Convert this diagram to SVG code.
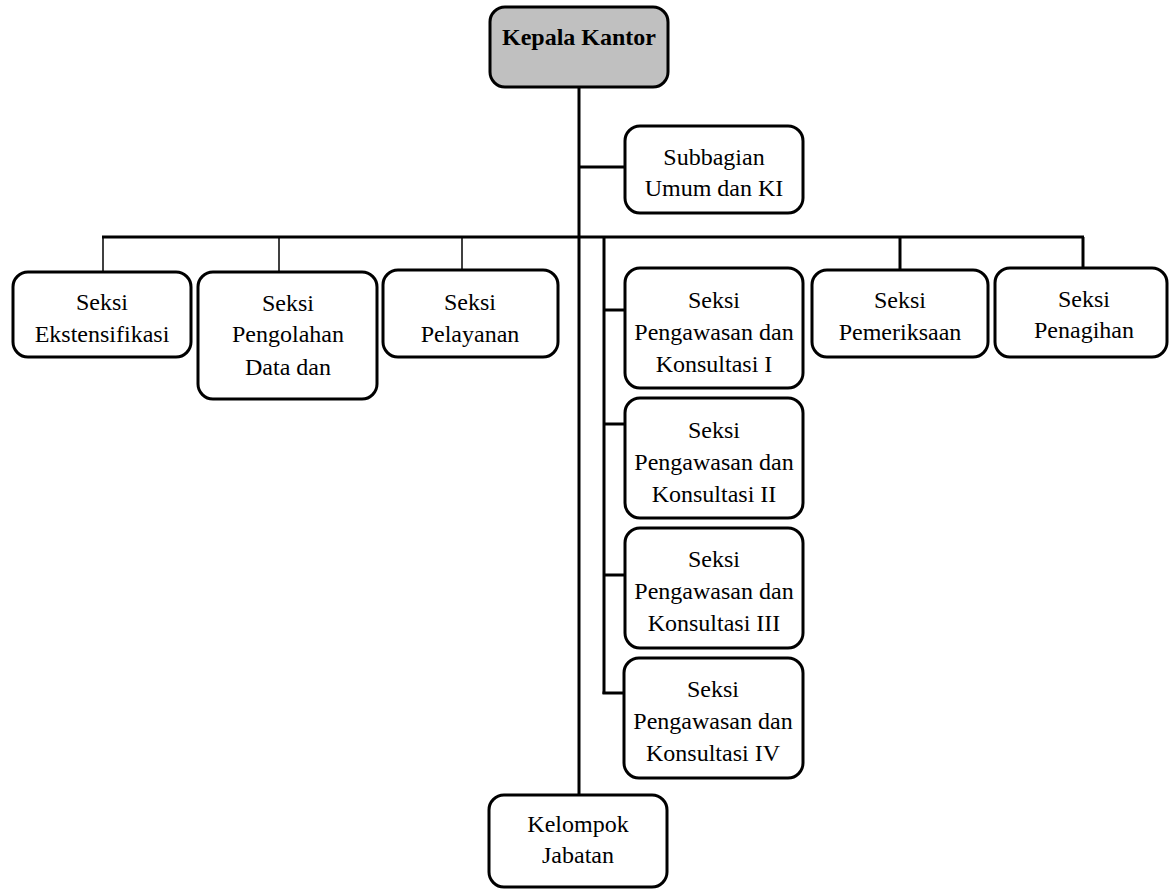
<svg xmlns="http://www.w3.org/2000/svg" width="1169" height="890" viewBox="0 0 1169 890">
<style>
.box{fill:#fff;stroke:#000;stroke-width:3}
.head{fill:#c0c0c0;stroke:#000;stroke-width:3}
.t{font-family:"Liberation Serif","Times New Roman",serif;font-size:24px;fill:#000;text-anchor:middle}
.b{font-weight:bold}
.thick{stroke:#000;stroke-width:3;fill:none}
.thin{stroke:#000;stroke-width:1.5;fill:none}
</style>
<rect width="1169" height="890" fill="#fff"/>
<g id="connectors">
<line class="thick" x1="579" y1="87" x2="579" y2="795"/>
<line class="thick" x1="579" y1="167" x2="625" y2="167"/>
<line class="thick" x1="102" y1="237" x2="1084" y2="237"/>
<line class="thin" x1="103" y1="237" x2="103" y2="272"/>
<line class="thin" x1="279" y1="237" x2="279" y2="272"/>
<line class="thin" x1="462" y1="237" x2="462" y2="270"/>
<line class="thick" x1="900" y1="237" x2="900" y2="270"/>
<line class="thick" x1="1083" y1="237" x2="1083" y2="268"/>
<line class="thick" x1="604" y1="237" x2="604" y2="694"/>
<line class="thick" x1="604" y1="310" x2="625" y2="310"/>
<line class="thick" x1="604" y1="424" x2="625" y2="424"/>
<line class="thick" x1="604" y1="575" x2="625" y2="575"/>
<line class="thick" x1="602.5" y1="693" x2="625" y2="693"/>
</g>
<g id="kepala">
<rect class="head" x="490" y="7" width="178" height="80" rx="15"/>
<text class="t b" x="579" y="45">Kepala Kantor</text>
</g>
<g id="subbagian">
<rect class="box" x="625" y="126" width="178" height="87" rx="15"/>
<text class="t" x="714" y="165">Subbagian</text>
<text class="t" x="714" y="196">Umum dan KI</text>
</g>
<g id="ekstensifikasi">
<rect class="box" x="13" y="272" width="178" height="85" rx="15"/>
<text class="t" x="102" y="310">Seksi</text>
<text class="t" x="102" y="342">Ekstensifikasi</text>
</g>
<g id="pengolahan">
<rect class="box" x="198" y="272" width="179" height="127" rx="15"/>
<text class="t" x="288" y="311">Seksi</text>
<text class="t" x="288" y="342">Pengolahan</text>
<text class="t" x="288" y="375">Data dan</text>
</g>
<g id="pelayanan">
<rect class="box" x="383" y="270" width="175" height="87" rx="15"/>
<text class="t" x="470" y="310">Seksi</text>
<text class="t" x="470" y="342">Pelayanan</text>
</g>
<g id="konsultasi1">
<rect class="box" x="625" y="268" width="178" height="120" rx="15"/>
<text class="t" x="714" y="308">Seksi</text>
<text class="t" x="714" y="340">Pengawasan dan</text>
<text class="t" x="714" y="372">Konsultasi I</text>
</g>
<g id="konsultasi2">
<rect class="box" x="625" y="398" width="178" height="120" rx="15"/>
<text class="t" x="714" y="438">Seksi</text>
<text class="t" x="714" y="470">Pengawasan dan</text>
<text class="t" x="714" y="502">Konsultasi II</text>
</g>
<g id="konsultasi3">
<rect class="box" x="625" y="528" width="178" height="120" rx="15"/>
<text class="t" x="714" y="567">Seksi</text>
<text class="t" x="714" y="599">Pengawasan dan</text>
<text class="t" x="714" y="631">Konsultasi III</text>
</g>
<g id="konsultasi4">
<rect class="box" x="624" y="658" width="179" height="120" rx="15"/>
<text class="t" x="713" y="697">Seksi</text>
<text class="t" x="713" y="729">Pengawasan dan</text>
<text class="t" x="713" y="761">Konsultasi IV</text>
</g>
<g id="pemeriksaan">
<rect class="box" x="812" y="270" width="176" height="87" rx="15"/>
<text class="t" x="900" y="308">Seksi</text>
<text class="t" x="900" y="340">Pemeriksaan</text>
</g>
<g id="penagihan">
<rect class="box" x="995" y="268" width="172" height="89" rx="15"/>
<text class="t" x="1084" y="307">Seksi</text>
<text class="t" x="1084" y="338">Penagihan</text>
</g>
<g id="kelompok">
<rect class="box" x="489" y="795" width="178" height="92" rx="15"/>
<text class="t" x="578" y="832">Kelompok</text>
<text class="t" x="578" y="863">Jabatan</text>
</g>
</svg>
